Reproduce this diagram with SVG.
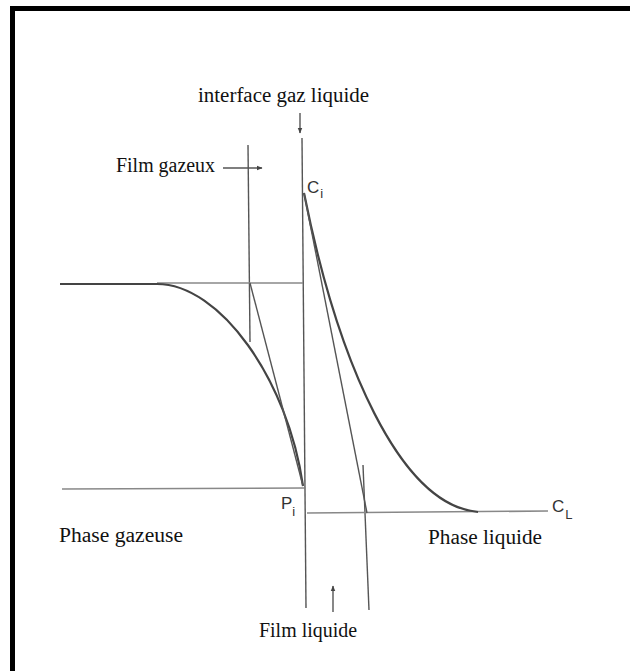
<svg xmlns="http://www.w3.org/2000/svg" width="630" height="671" viewBox="0 0 630 671">
<defs>
<style>
.lbl{font-family:"Liberation Serif","Times New Roman",serif;font-size:20px;fill:#111}
.sym{font-family:"Liberation Sans",Arial,sans-serif;font-size:17px;fill:#333}
.sub{font-family:"Liberation Sans",Arial,sans-serif;font-size:13px;fill:#333}
.thick{fill:none;stroke:#444;stroke-width:2.2}
.thin{fill:none;stroke:#555;stroke-width:1.4}
.light{fill:none;stroke:#888;stroke-width:1.6}
</style>
<marker id="ah" viewBox="0 0 10 10" refX="9" refY="5" markerWidth="6" markerHeight="6" orient="auto" markerUnits="userSpaceOnUse">
<path d="M0,1 L10,5 L0,9 Z" fill="#444"/>
</marker>
</defs>
<rect x="0" y="0" width="630" height="671" fill="#fff"/>
<g id="frame">
<rect x="10" y="6" width="620" height="5" fill="#000"/>
<rect x="10" y="6" width="5" height="665" fill="#000"/>
</g>
<g id="connectors">
<line id="interface" class="thin" x1="302" y1="138" x2="306" y2="608"/>
<line id="film-gaz-line" class="thin" x1="248" y1="145" x2="250" y2="342"/>
<line id="film-liq-line" class="thin" x1="363" y1="465" x2="369" y2="610"/>
<line class="thick" x1="60" y1="284" x2="157" y2="284"/>
<line class="light" x1="157" y1="283" x2="303" y2="283"/>
<line class="light" x1="62" y1="489" x2="304" y2="488"/>
<line class="light" x1="307" y1="513" x2="548" y2="511"/>
<path id="gas-curve" class="thick" d="M157,284 C220,284 288,380 303,486"/>
<line class="thin" x1="250" y1="283" x2="303" y2="486"/>
<path id="liq-curve" class="thick" d="M304,193 C338,363 400,505 478,512"/>
<line class="thin" x1="304" y1="193" x2="367" y2="513"/>
<line class="thin" x1="300" y1="113" x2="300" y2="133" marker-end="url(#ah)"/>
<line class="thin" x1="223" y1="168" x2="262" y2="168" marker-end="url(#ah)"/>
<line class="thin" x1="333" y1="612" x2="333" y2="586" marker-end="url(#ah)"/>
</g>
<g id="labels">
<text class="lbl" x="198" y="102" textLength="171" lengthAdjust="spacingAndGlyphs">interface gaz liquide</text>
<text class="lbl" x="116" y="172" textLength="99" lengthAdjust="spacingAndGlyphs">Film gazeux</text>
<text class="lbl" x="59" y="542" textLength="124" lengthAdjust="spacingAndGlyphs">Phase gazeuse</text>
<text class="lbl" x="428" y="544" textLength="114" lengthAdjust="spacingAndGlyphs">Phase liquide</text>
<text class="lbl" x="259" y="637" textLength="98" lengthAdjust="spacingAndGlyphs">Film liquide</text>
<text class="sym" x="307" y="193">C<tspan class="sub" dx="1" dy="5">i</tspan></text>
<text class="sym" x="281" y="509">P<tspan class="sub" dx="0" dy="7">i</tspan></text>
<text class="sym" x="552" y="512">C<tspan class="sub" dx="1" dy="7">L</tspan></text>
</g>
</svg>
